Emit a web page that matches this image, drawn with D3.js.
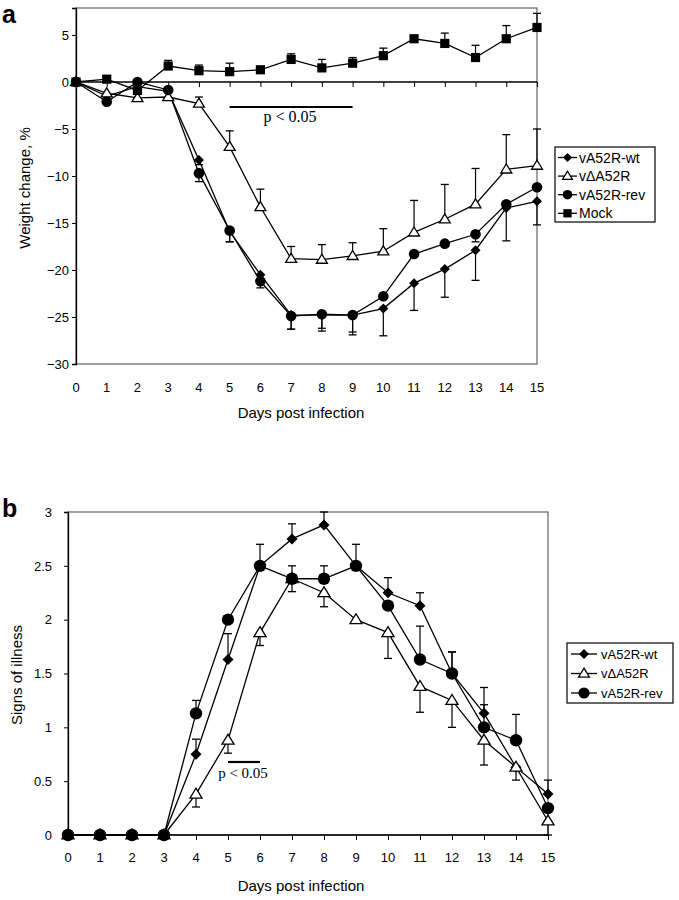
<!DOCTYPE html>
<html><head><meta charset="utf-8">
<script src="https://cdn.jsdelivr.net/npm/d3@7"></script>
<style>body{margin:0;background:#fff}svg{display:block}text{fill:#000}</style>
</head><body><svg id="c" width="679" height="900"></svg>
<script>
// ---------- DATA ----------
const days = [0,1,2,3,4,5,6,7,8,9,10,11,12,13,14,15];
const seriesNamesA = ["vA52R-wt","vΔA52R","vA52R-rev","Mock"];
const seriesNamesB = ["vA52R-wt","vΔA52R","vA52R-rev"];

// Panel a: weight change, %
const wtA     = [0,-1.5,-0.5,-1.0,-8.3,-15.9,-20.5,-24.8,-24.8,-24.8,-24.1,-21.4,-19.9,-17.9,-13.4,-12.7];
const wtAErr  = [0,0,0,0,0.5,1.1,0.8,1.5,1.7,2.1,2.9,2.9,3.0,3.2,3.5,2.5];      // drawn downward
const delA    = [0,-1.2,-1.7,-1.6,-2.3,-6.9,-13.3,-18.8,-18.9,-18.5,-18.0,-16.0,-14.6,-13.0,-9.3,-8.9];
const delAErr = [0,0,0,0,0.7,1.7,1.9,1.3,1.6,1.4,2.4,3.4,3.7,3.8,3.7,3.9];      // drawn upward
const revA    = [0,-2.1,0.0,-0.85,-9.7,-15.8,-21.2,-24.9,-24.7,-24.8,-22.8,-18.3,-17.2,-16.2,-13.0,-11.2];
const revAErr = [0,0,0,0,0.9,1.2,0.7,1.4,1.5,1.8,0,0,0,0.8,0,0];                // drawn downward
const mockA   = [0,0.3,-0.9,1.7,1.2,1.1,1.3,2.4,1.5,2.0,2.8,4.6,4.1,2.6,4.6,5.8];
const mockAErr= [0,0,0,0.6,0.6,0.9,0.3,0.6,0.9,0.6,0.8,0.3,1.1,1.3,1.4,1.5];    // drawn upward
const yTicksA = [-30,-25,-20,-15,-10,-5,0,5];
const pRangeA = [5,9];

// Panel b: signs of illness
const wtB     = [0,0,0,0,0.75,1.63,2.5,2.75,2.88,2.5,2.25,2.13,1.5,1.13,0.63,0.38];
const wtBErr  = [0,0,0,0,0.14,0.24,0,0.14,0.12,0,0.14,0.12,0.2,0.24,0,0.13];    // upward
const delB    = [0,0,0,0,0.38,0.88,1.88,2.38,2.25,2.0,1.88,1.38,1.25,0.88,0.63,0.13];
const delBErr = [0,0,0,0,0.12,0.12,0.12,0.12,0.13,0,0.24,0.24,0.25,0.23,0.12,0.13]; // downward
const revB    = [0,0,0,0,1.13,2.0,2.5,2.38,2.38,2.5,2.13,1.63,1.5,1.0,0.88,0.25];
const revBErr = [0,0,0,0,0.12,0,0.2,0.12,0.12,0.2,0,0.31,0.2,0.21,0.24,0];      // upward
const yTicksB = [0,0.5,1,1.5,2,2.5,3];
const yTickLabelsB = ["0","0.5","1","1.5","2","2.5","3"];
const pRangeB = [5,6];

// ---------- DRAW ----------
const SANS = "'Liberation Sans', Arial, sans-serif";
const SERIF = "'Liberation Serif', 'Times New Roman', serif";
const svg = d3.select("#c");

function marker(g, type, x, y, s) {
  if (type === "diamond") {
    g.append("path").attr("d", `M${x},${y-s}L${x+s},${y}L${x},${y+s}L${x-s},${y}Z`).attr("fill","#000");
  } else if (type === "triangle") {
    const h = s*1.8, w = s*1.1;
    g.append("path").attr("d", `M${x},${y-h*0.6}L${x+w},${y+h*0.4}L${x-w},${y+h*0.4}Z`)
      .attr("fill","#fff").attr("stroke","#000").attr("stroke-width",1.3);
  } else if (type === "circle") {
    g.append("circle").attr("cx",x).attr("cy",y).attr("r",s).attr("fill","#000");
  } else if (type === "square") {
    g.append("rect").attr("x",x-s).attr("y",y-s).attr("width",2*s).attr("height",2*s).attr("fill","#000");
  }
}

function drawPanel(cfg) {
  const g = svg.append("g");
  const x = d3.scaleLinear().domain([0,15]).range(cfg.xr);
  const y = d3.scaleLinear().domain(cfg.yd).range(cfg.yr);
  // frame
  g.append("rect").attr("x",cfg.xr[0]).attr("y",cfg.yr[1]).attr("width",cfg.xr[1]-cfg.xr[0])
    .attr("height",cfg.yr[0]-cfg.yr[1]).attr("fill","none").attr("stroke","#555").attr("stroke-width",1.1);
  // y axis
  const ya = g.append("g").attr("transform",`translate(${cfg.xr[0]},0)`)
    .call(d3.axisLeft(y).tickValues(cfg.yTicks).tickSize(4).tickPadding(cfg.yPad)
      .tickFormat((d,i)=>cfg.yLabels ? cfg.yLabels[i] : d3.format("d")(d)));
  ya.select(".domain").attr("stroke","#000").attr("stroke-width",1.3);
  ya.selectAll(".tick line").attr("stroke","#000");
  ya.selectAll("text").attr("font-size",13).style("font-family",SANS);
  // x axis line at y=0 with ticks
  const y0 = y(0);
  const xa = g.append("g").attr("transform",`translate(0,${y0})`)
    .call(d3.axisBottom(x).tickValues(days).tickSize(5).tickFormat(""));
  xa.select(".domain").attr("stroke","#000").attr("stroke-width",1.3).attr("d",`M${cfg.xr[0]},0H${cfg.xr[1]}`);
  xa.selectAll(".tick line").attr("stroke","#000");
  // x tick labels at bottom
  g.selectAll(".xl").data(days).enter().append("text")
    .attr("x",d=>x(d)).attr("y",cfg.xLabY).attr("text-anchor","middle").attr("font-size",13)
    .style("font-family",SANS).text(d=>d);
  g.append("text").attr("x",301).attr("y",cfg.xTitleY).attr("text-anchor","middle").attr("font-size",15)
    .style("font-family",SANS).text("Days post infection");
  g.append("text").attr("transform",`translate(${cfg.yTitleX},${cfg.yTitleY}) rotate(-90)`)
    .attr("text-anchor","middle").attr("font-size",15).style("font-family",SANS).text(cfg.yTitle);
  g.append("text").attr("x",2).attr("y",cfg.letterY).attr("font-size",25).attr("font-weight","bold")
    .style("font-family",SANS).text(cfg.letter);
  // p<0.05
  g.append("line").attr("x1",x(cfg.pRange[0])).attr("x2",x(cfg.pRange[1]))
    .attr("y1",cfg.pLineY).attr("y2",cfg.pLineY).attr("stroke","#000").attr("stroke-width",2.2);
  g.append("text").attr("x",cfg.pTextX).attr("y",cfg.pTextY).attr("text-anchor","middle")
    .style("font-family",SERIF).attr("font-size",cfg.pSize).text("p < 0.05");
  // series
  const line = d3.line().x((d,i)=>x(days[i])).y(d=>y(d));
  cfg.series.forEach(s => {
    const sg = g.append("g");
    s.vals.forEach((v,i) => {
      const e = s.err[i];
      if (!e) return;
      const end = v + s.dir*e;
      sg.append("line").attr("x1",x(days[i])).attr("x2",x(days[i])).attr("y1",y(v)).attr("y2",y(end))
        .attr("stroke","#000").attr("stroke-width",1.2);
      sg.append("line").attr("x1",x(days[i])-4).attr("x2",x(days[i])+4).attr("y1",y(end)).attr("y2",y(end))
        .attr("stroke","#000").attr("stroke-width",1.3);
    });
    sg.append("path").attr("d",line(s.vals)).attr("fill","none").attr("stroke","#000").attr("stroke-width",1.3);
  });
  cfg.series.forEach(s => {
    const mg = g.append("g");
    s.vals.forEach((v,i) => marker(mg, s.type, x(days[i]), y(v), s.size));
  });
  // legend
  const L = cfg.legend;
  g.append("rect").attr("x",L.x).attr("y",L.y).attr("width",L.w).attr("height",L.h)
    .attr("fill","#fff").attr("stroke","#000").attr("stroke-width",1.2);
  cfg.series.forEach((s,i) => {
    const ly = L.y0 + i*L.dy;
    g.append("line").attr("x1",L.lx1).attr("x2",L.lx2).attr("y1",ly).attr("y2",ly).attr("stroke","#000").attr("stroke-width",1.3);
    marker(g, s.type, (L.lx1+L.lx2)/2, ly, s.size*0.9);
    g.append("text").attr("x",L.tx).attr("y",ly).attr("dy","0.36em").attr("font-size",L.fs)
      .style("font-family",SANS).text(cfg.names[i]);
  });
}

drawPanel({
  xr:[76,537], yd:[-30,7.87], yr:[364,8], yTicks:yTicksA, yPad:3,
  xLabY:392, xTitleY:418, yTitle:"Weight change, %", yTitleX:30, yTitleY:188,
  letter:"a", letterY:23, pRange:pRangeA, pLineY:107, pTextX:290, pTextY:122, pSize:16,
  names:seriesNamesA,
  series:[
    {vals:wtA,err:wtAErr,dir:-1,type:"diamond",size:5},
    {vals:delA,err:delAErr,dir:1,type:"triangle",size:5},
    {vals:revA,err:revAErr,dir:-1,type:"circle",size:5.3},
    {vals:mockA,err:mockAErr,dir:1,type:"square",size:4.6}
  ],
  legend:{x:555,y:147,w:100,h:75,y0:157.5,dy:18.6,lx1:558,lx2:577,tx:579,fs:14}
});

drawPanel({
  xr:[68,548], yd:[0,3], yr:[835,512], yTicks:yTicksB, yLabels:yTickLabelsB, yPad:12,
  xLabY:862, xTitleY:891, yTitle:"Signs of illness", yTitleX:22, yTitleY:675,
  letter:"b", letterY:517, pRange:pRangeB, pLineY:762, pTextX:243, pTextY:778, pSize:15,
  names:seriesNamesB,
  series:[
    {vals:wtB,err:wtBErr,dir:1,type:"diamond",size:5.5},
    {vals:delB,err:delBErr,dir:-1,type:"triangle",size:5.5},
    {vals:revB,err:revBErr,dir:1,type:"circle",size:6.2}
  ],
  legend:{x:567,y:643,w:106,h:60,y0:654,dy:19.5,lx1:571,lx2:597,tx:601,fs:13}
});
</script></body></html>
